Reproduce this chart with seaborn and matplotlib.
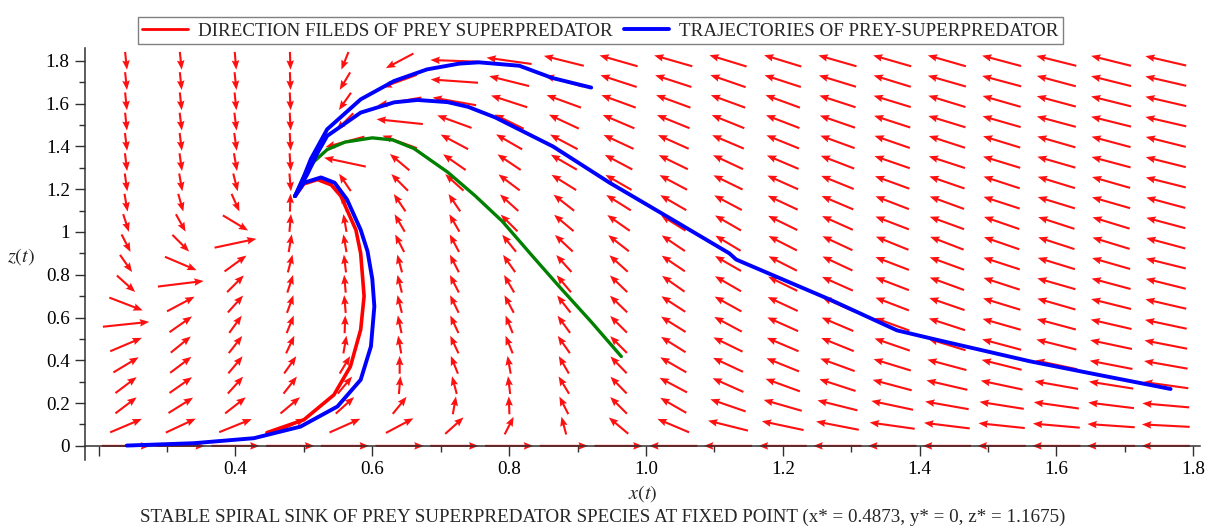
import numpy as np
import pandas as pd
import matplotlib
matplotlib.use("Agg")
import matplotlib.pyplot as plt
import seaborn as sns
from matplotlib.lines import Line2D
from matplotlib.ticker import MultipleLocator

# ---------------- data ----------------
# direction-field grid
field_x = [0.24, 0.32, 0.40, 0.48, 0.56, 0.64, 0.72, 0.80, 0.88, 0.96,
           1.04, 1.12, 1.20, 1.28, 1.36, 1.44, 1.52, 1.60, 1.68, 1.76]
field_z = [0.0, 0.0947, 0.1895, 0.2842, 0.3789, 0.4737, 0.5684, 0.6632, 0.7579, 0.8526,
           0.9474, 1.0421, 1.1368, 1.2316, 1.3263, 1.4211, 1.5158, 1.6105, 1.7053, 1.8]

# on-screen arrow angles (degrees, counter-clockwise), one list per column, rows from z=0 up
ang_x024 = [0, 23, 37, 37, 31, 23, 6, -21, -42, -55, -63, -72, -80, -82, -83, -83, -84, -84, -84, -84]
ang_x032 = [0, 25, 32, 35, 37, 39, 35, 28, 7, -23, -45, -61, -74, -80, -82, -83, -83, -84, -84, -84]
ang_x040 = [0, 22, 38, 48, 50, 52, 54, 48, 45, 36, 12, -31, -66, -76, -80, -82, -83, -84, -84, -85]
ang_x048 = [0, 25, 40, 52, 55, 65, 68, 70, 72, 75, 80, 85, 88, -85, -86, -87, -87, -87, -88, -88]
ang_x056 = [0, 24, 42, 50, 59, 80, 88, 95, 95, 97, 100, 100, 102, 124, 168, -165, -135, -125, -121, -112]
ang_x064 = [0, 28, 51, 85, 90, 100, 102, 104, 104, 105, 117, 120, 124, 135, 140, 160, 174, -170, -160, -152]
ang_x072 = [0, 42, 80, 105, 112, 115, 115, 116, 117, 117, 118, 120, 124, 138, 145, 152, 160, 170, 176, 178]
ang_x080 = [0, 63, 92, 97, 100, 112, 112, 118, 120, 125, 129, 135, 138, 143, 146, 150, 154, 162, 166, 172]
ang_x088 = [0, 105, 117, 121, 120, 125, 126, 128, 130, 132, 137, 140, 142, 148, 150, 152, 155, 160, 164, 166]
ang_x096 = [0, 140, 135, 134, 134, 135, 135, 136, 136, 138, 142, 145, 148, 150, 152, 155, 157, 160, 162, 164]
ang_x104 = [180, 157, 150, 152, 150, 148, 148, 147, 145, 146, 146, 148, 150, 152, 154, 156, 158, 160, 162, 164]
ang_x112 = [180, 166, 161, 156, 155, 154, 152, 151, 150, 150, 149, 150, 152, 154, 155, 157, 158, 160, 161, 163]
ang_x120 = [180, 168, 164, 160, 158, 157, 156, 155, 154, 153, 153, 154, 155, 156, 157, 158, 159, 160, 162, 163]
ang_x128 = [180, 169, 166, 162, 160, 158, 157, 156, 156, 155, 155, 156, 157, 158, 159, 160, 161, 162, 163, 164]
ang_x136 = [180, 172, 168, 165, 163, 161, 160, 159, 159, 159, 158, 159, 159, 160, 161, 161, 162, 163, 163, 164]
ang_x144 = [180, 173, 170, 167, 165, 163, 162, 161, 160, 160, 159, 160, 160, 161, 162, 162, 163, 163, 164, 164]
ang_x152 = [180, 174, 171, 168, 166, 165, 164, 163, 162, 162, 161, 161, 162, 162, 163, 163, 164, 164, 165, 165]
ang_x160 = [180, 175, 172, 170, 168, 166, 165, 164, 164, 163, 162, 162, 163, 163, 164, 164, 165, 165, 165, 166]
ang_x168 = [180, 176, 173, 171, 169, 168, 167, 166, 165, 164, 163, 163, 164, 164, 165, 165, 166, 166, 166, 166]
ang_x176 = [180, 177, 175, 172, 170, 169, 168, 167, 166, 166, 165, 165, 165, 166, 166, 166, 167, 167, 167, 167]

# trajectories
traj_outer_x = [0.487, 0.50, 0.51, 0.534, 0.583, 0.632, 0.68, 0.727, 0.756, 0.815, 0.863, 0.92]
traj_outer_z = [1.1675, 1.26, 1.34, 1.48, 1.62, 1.706, 1.76, 1.787, 1.793, 1.777, 1.72, 1.675]

traj_long_x = [0.487, 0.505, 0.52, 0.534, 0.583, 0.632, 0.666, 0.71, 0.74, 0.78, 0.864, 0.947,
               1.03, 1.122, 1.132, 1.184, 1.269, 1.367, 1.425, 1.562, 1.66, 1.767]
traj_long_z = [1.1675, 1.27, 1.37, 1.449, 1.558, 1.606, 1.617, 1.607, 1.585, 1.535, 1.40, 1.23,
               1.074, 0.90, 0.871, 0.80, 0.684, 0.54, 0.496, 0.395, 0.333, 0.266]

traj_green_x = [0.487, 0.50, 0.515, 0.534, 0.56, 0.60, 0.63, 0.661, 0.71, 0.75, 0.79, 0.832, 0.873, 0.92, 0.964]
traj_green_z = [1.1675, 1.26, 1.33, 1.385, 1.42, 1.44, 1.43, 1.39, 1.28, 1.17, 1.05, 0.895, 0.746, 0.58, 0.418]

traj_loop_x = [0.487, 0.50, 0.525, 0.545, 0.563, 0.583, 0.593, 0.60, 0.603, 0.598, 0.583, 0.549,
               0.495, 0.427, 0.339, 0.241]
traj_loop_z = [1.1675, 1.23, 1.255, 1.23, 1.152, 1.01, 0.91, 0.78, 0.652, 0.465, 0.309, 0.184,
               0.09, 0.036, 0.0125, 0.0015]

traj_red_x = [0.487, 0.50, 0.52, 0.54, 0.554, 0.576, 0.583, 0.588, 0.583, 0.568, 0.544, 0.50, 0.446]
traj_red_z = [1.1675, 1.225, 1.245, 1.22, 1.168, 1.01, 0.90, 0.70, 0.543, 0.371, 0.239, 0.122, 0.062]

x_ticks = [0.2, 0.4, 0.6, 0.8, 1.0, 1.2, 1.4, 1.6, 1.8]
x_tick_labels = ["", "0.4", "0.6", "0.8", "1.0", "1.2", "1.4", "1.6", "1.8"]
y_ticks = [0, 0.2, 0.4, 0.6, 0.8, 1.0, 1.2, 1.4, 1.6, 1.8]
y_tick_labels = ["0", "0.2", "0.4", "0.6", "0.8", "1", "1.2", "1.4", "1.6", "1.8"]

legend_labels = ["DIRECTION FILEDS OF PREY SUPERPREDATOR", "TRAJECTORIES OF PREY-SUPERPREDATOR"]
caption = "STABLE SPIRAL SINK OF PREY SUPERPREDATOR SPECIES AT FIXED POINT (x* = 0.4873, y* = 0, z* = 1.1675)"

# ---------------- style ----------------
sns.set_theme(style="ticks")
plt.rcParams["font.family"] = ["Liberation Serif", "DejaVu Serif"]
plt.rcParams["mathtext.fontset"] = "stix"
FS = 13.5

W, H = 1213, 529
fig = plt.figure(figsize=(W / 100, H / 100), dpi=100)
ax = fig.add_axes([85 / W, 1 - 460 / H, (1200 - 85) / W, (460 - 48) / H])
ax.set_xlim(0.18, 1.81)
ax.set_ylim(-0.066, 1.86)

# ---------------- direction field ----------------
angle_cols = [ang_x024, ang_x032, ang_x040, ang_x048, ang_x056, ang_x064, ang_x072,
              ang_x080, ang_x088, ang_x096, ang_x104, ang_x112, ang_x120, ang_x128,
              ang_x136, ang_x144, ang_x152, ang_x160, ang_x168, ang_x176]
X, Z = np.meshgrid(field_x, field_z, indexing="ij")
ANG = np.array(angle_cols, dtype=float)

fig.canvas.draw()
p0 = ax.transData.transform((0, 0))
px_per_x = ax.transData.transform((1, 0))[0] - p0[0]
px_per_z = ax.transData.transform((0, 1))[1] - p0[1]
cell_w = (field_x[1] - field_x[0]) * px_per_x
cell_h = (field_z[1] - field_z[0]) * px_per_z
L = 0.88
th = np.deg2rad(ANG)
length_px = L / np.sqrt((np.cos(th) / cell_w) ** 2 + (np.sin(th) / cell_h) ** 2)

ax.quiver(X.ravel(), Z.ravel(), length_px.ravel(), np.zeros(length_px.size),
          angles=ANG.ravel(), scale_units="dots", scale=1, units="dots",
          width=2.1, headwidth=3.6, headlength=4.5, headaxislength=4.0,
          pivot="middle", color="#ff1010", zorder=2)

# ---------------- trajectories ----------------
def traj(xs, zs, color, lw):
    df = pd.DataFrame({"x": xs, "z": zs})
    sns.lineplot(data=df, x="x", y="z", sort=False, estimator=None, color=color,
                 lw=lw, ax=ax, zorder=3)

traj(traj_red_x, traj_red_z, "#ff0000", 2.6)
traj(traj_loop_x, traj_loop_z, "#0000ff", 2.8)
traj(traj_green_x, traj_green_z, "#008000", 2.4)
traj(traj_long_x, traj_long_z, "#0000ff", 2.8)
traj(traj_outer_x, traj_outer_z, "#0000ff", 2.8)

# ---------------- axes ----------------
for s in ["top", "right"]:
    ax.spines[s].set_visible(False)
ax.spines["bottom"].set_position(("data", 0))
for s in ["left", "bottom"]:
    ax.spines[s].set_color("#303030")
    ax.spines[s].set_linewidth(1.1)
ax.set_xticks(x_ticks)
ax.set_xticklabels(x_tick_labels)
ax.set_yticks(y_ticks)
ax.set_yticklabels(y_tick_labels)
ax.xaxis.set_minor_locator(MultipleLocator(0.1))
ax.yaxis.set_minor_locator(MultipleLocator(0.1))
ax.tick_params(which="major", direction="out", length=7, width=1.0, color="#303030",
               labelsize=FS + 0.3, pad=4, labelcolor="black")
ax.tick_params(which="minor", direction="out", length=4, width=1.0, color="#303030")
ax.set_xlabel(r"$x(t)$", fontsize=FS + 1)
ax.xaxis.set_label_coords(0.5, -0.055)
ax.set_ylabel(r"$z(t)$", fontsize=FS + 1, rotation=0, ha="center", va="center")
ax.yaxis.set_label_coords(-0.057, 0.493)
ax.grid(False)

# ---------------- legend & caption ----------------
handles = [Line2D([], [], color="#ff0000", lw=2.0), Line2D([], [], color="#0000ff", lw=2.8)]
fig.legend(handles, legend_labels, loc="upper center", bbox_to_anchor=(0.495, 0.985),
           ncol=2, frameon=True, fancybox=False, edgecolor="#808080", fontsize=FS + 0.2,
           handlelength=2.4, handletextpad=0.5, columnspacing=0.6, borderpad=0.25,
           framealpha=1)
fig.text(0.497, 1 - 517 / H, caption, ha="center", va="center", fontsize=FS + 0.15)

fig.savefig("out.png", dpi=100)
